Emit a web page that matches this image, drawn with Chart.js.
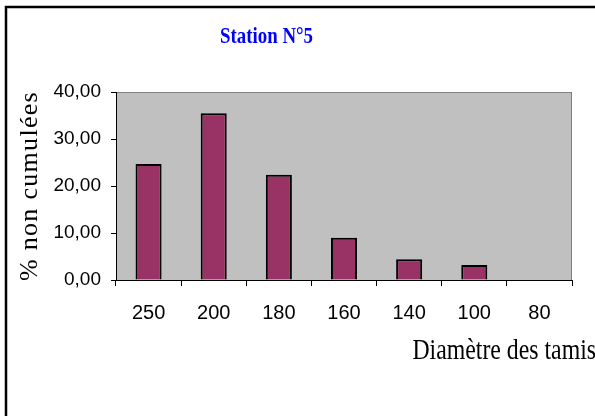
<!DOCTYPE html>
<html>
<head>
<meta charset="utf-8">
<script src="https://cdn.jsdelivr.net/npm/chart.js@4"></script>
<style>
  html, body { margin: 0; padding: 0; background: #ffffff; }
  #wrap { position: relative; width: 595px; height: 416px; }
</style>
</head>
<body>
<div id="wrap"><canvas id="result_chart" width="595" height="416"></canvas></div>
<script>
// Station 5 - grain size distribution (non cumulated %)

const sieves = ['250', '200', '180', '160', '140', '100', '80']
const percents = [24.7, 35.5, 22.4, 9.0, 4.4, 3.2, 0]
const y_ticks = [0, 10, 20, 30, 40]

const chart_title = 'Station N°5'
const x_title = 'Diamètre des tamis'
const y_title = '% non cumulées'

// the source picture is squeezed sideways a bit, texts drawn here follow that
const squeeze = 0.82

function squeezed_text(ctx, text, x, y, align) {
    ctx.save()
    ctx.scale(squeeze, 1)
    ctx.textAlign = align
    ctx.fillText(text, x / squeeze, y)
    ctx.restore()
}

// frame, grey plot background and the texts Chart.js can't place like Excel does
const excel_look = {
    id: 'excel_look',
    beforeDraw(chart) {
        const ctx = chart.ctx
        const a = chart.chartArea
        ctx.save()
        ctx.fillStyle = '#ffffff'
        ctx.fillRect(0, 0, chart.width, chart.height)
        ctx.fillStyle = '#c0c0c0'
        ctx.fillRect(a.left, a.top, a.right - a.left, a.bottom - a.top)
        ctx.strokeStyle = '#808080'
        ctx.lineWidth = 1
        ctx.strokeRect(a.left + 0.5, a.top + 0.5, a.right - a.left - 1, a.bottom - a.top)
        // outer frame (only top and left are visible in the picture)
        ctx.strokeStyle = '#000000'
        ctx.lineWidth = 2.5
        ctx.beginPath()
        ctx.moveTo(6, 416)
        ctx.lineTo(6, 7)
        ctx.lineTo(595, 7)
        ctx.stroke()
        ctx.restore()
    },
    afterDraw(chart) {
        const ctx = chart.ctx
        const a = chart.chartArea
        ctx.save()
        ctx.textBaseline = 'alphabetic'
        ctx.fillStyle = '#0000ff'
        ctx.font = 'bold 23px "Liberation Serif"'
        squeezed_text(ctx, chart_title, 266.5, 43, 'center')

        ctx.fillStyle = '#000000'
        ctx.font = '29px "Liberation Serif"'
        squeezed_text(ctx, x_title, 596, 359, 'right')

        ctx.translate(30, (a.top + a.bottom) / 2)
        ctx.rotate(-Math.PI / 2)
        ctx.textAlign = 'center'
        ctx.textBaseline = 'middle'
        ctx.font = '26px "Liberation Serif"'
        ctx.letterSpacing = '1.3px'
        ctx.fillText(y_title, 0, 0)
        ctx.restore()
    }
}

function draw_results() {
    const frame = document.getElementById('result_chart')

    new Chart(frame, {
        type: 'bar',
        data: {
            labels: sieves,
            datasets: [{
                label: chart_title,
                data: percents,
                backgroundColor: '#993366',
                borderColor: '#000000',
                borderWidth: 2,
                barPercentage: 0.4,
                categoryPercentage: 1.0
            }]
        },
        options: {
            responsive: false,
            animation: false,
            devicePixelRatio: 1,
            layout: { padding: { left: 0, top: 92, right: 23, bottom: 0 } },
            plugins: {
                legend: { display: false },
                title: { display: false },
                tooltip: { enabled: false }
            },
            scales: {
                x: {
                    afterFit(scale) { scale.height = 136 },
                    grid: {
                        offset: true,
                        drawOnChartArea: false,
                        drawTicks: true,
                        tickLength: 6,
                        tickColor: '#000000'
                    },
                    border: { color: '#000000', width: 1 },
                    ticks: {
                        color: '#000000',
                        padding: 15,
                        maxRotation: 0,
                        font: { family: '"Liberation Sans"', size: 20 }
                    }
                },
                y: {
                    min: 0,
                    max: 40,
                    afterFit(scale) { scale.width = 116 },
                    afterBuildTicks(scale) {
                        scale.ticks = y_ticks.map(v => ({ value: v }))
                    },
                    grid: {
                        drawOnChartArea: false,
                        drawTicks: true,
                        tickLength: 5,
                        tickColor: '#000000'
                    },
                    border: { color: '#000000', width: 1 },
                    ticks: {
                        color: '#000000',
                        padding: 10,
                        font: { family: '"Liberation Sans"', size: 19 },
                        callback: v => v.toFixed(2).replace('.', ',')
                    }
                }
            }
        },
        plugins: [excel_look]
    })
}

draw_results()
</script>
</body>
</html>
